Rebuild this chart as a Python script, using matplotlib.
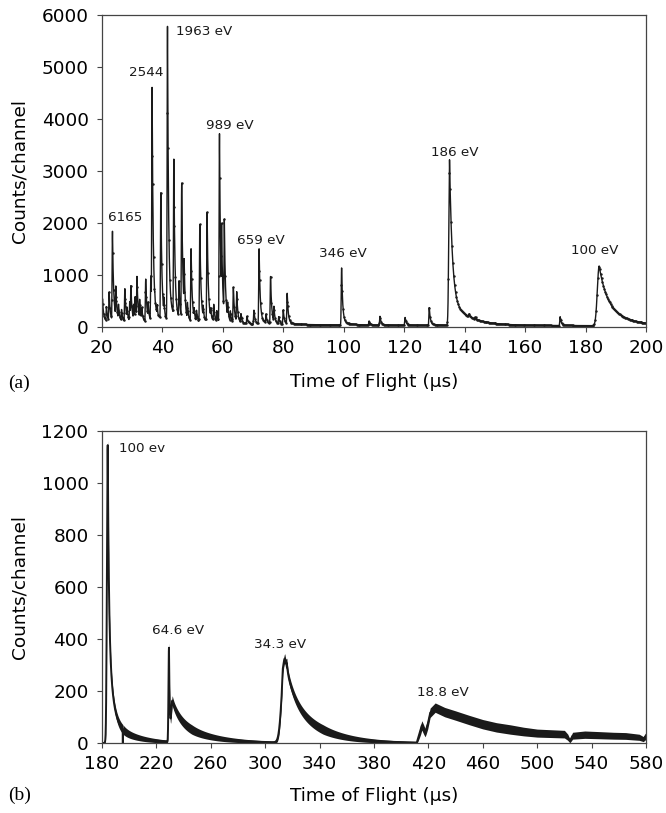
import numpy as np
import matplotlib
matplotlib.use('Agg')
import matplotlib.pyplot as plt

plt.rcParams['font.family'] = ['DejaVu Sans']

### Panel (a): 20-200 us
# sharp peaks: time of flight (us), counts
spike_tof_a = [20.2, 22.4, 23.5, 24.6, 27.6, 29.2, 29.6, 31.6, 32.5, 34.5, 36.2, 36.6,
               39.5, 41.7, 43.8, 45.5, 46.4, 47.2, 49.5, 52.4, 54.8, 57.0, 58.9, 59.6,
               60.5, 61.6, 63.5, 64.6, 70.3, 72.0, 74.3, 75.8, 76.9, 80.0, 81.3, 99.3,
               108.4, 112.0, 120.3, 128.3, 141.5, 143.5, 171.6]
spike_counts_a = [450, 580, 1750, 700, 650, 400, 710, 890, 450, 840, 900, 4525,
                  2500, 5700, 3150, 810, 2690, 1240, 1430, 1900, 2135, 370, 3650, 1930,
                  2010, 420, 700, 620, 270, 1450, 200, 920, 350, 280, 600, 1096,
                  80, 170, 150, 340, 60, 50, 170]
# small background spikes in the crowded region
noise_tof_a = [21.5, 25.5, 26.5, 28.3, 30.5, 31.0, 33.2, 35.3, 37.5, 38.3, 40.5, 42.6,
               44.6, 48.3, 50.5, 51.3, 53.5, 56.0, 58.0, 62.5, 66.0, 68.0, 78.5]
noise_counts_a = [300, 350, 250, 300, 350, 500, 300, 400, 600, 350, 500, 400,
                  450, 400, 300, 250, 350, 300, 250, 250, 200, 150, 150]
# broad peaks (186 eV and 100 eV): tof, counts, rise width, decay length
broad_tof_a = [135.0, 135.0, 184.5, 184.5]
broad_counts_a = [2700, 480, 690, 457]
broad_rise_a = [0.25, 0.25, 0.6, 0.6]
broad_decay_a = [0.9, 6.0, 2.5, 7.0]
base_tof_a = [20, 30, 40, 50, 60, 70, 80, 90, 100, 120, 140, 160, 180, 200]
base_counts_a = [90, 80, 75, 70, 60, 50, 45, 40, 35, 30, 28, 25, 22, 20]

labels_a = ['6165', '2544', '1963 eV', '989 eV', '659 eV', '346 eV', '186 eV', '100 eV']
label_x_a = [27.6, 34.8, 44.4, 62.4, 72.6, 99.8, 136.7, 183.0]
label_y_a = [2096, 4890, 5680, 3865, 1660, 1417, 3352, 1467]
label_ha_a = ['center', 'center', 'left', 'center', 'center', 'center', 'center', 'center']

### Panel (b): 180-580 us
broad_tof_b = [184.3, 184.3, 184.3, 229.3, 231.8, 231.8, 314.5, 314.5, 313.0, 316.0]
broad_counts_b = [650, 410, 85, 360, 69, 84, 128, 192, 30, 25]
broad_rise_b = [0.6, 0.6, 0.6, 0.35, 0.8, 0.8, 2.2, 2.2, 0.4, 0.4]
broad_decay_b = [0.8, 3.0, 16.0, 0.6, 6.0, 22.0, 6.0, 21.0, 0.6, 0.6]
base_tof_b = [180, 411.5, 413.5, 415.2, 417.6, 419.5, 421.3, 425, 432, 440, 450, 460,
              470, 480, 490, 500, 510, 520, 522.5, 524, 526, 535, 546, 556, 565, 575,
              578, 580]
base_counts_b = [0, 0, 35, 66, 38, 70, 115, 135, 118, 105, 88, 72,
                 60, 52, 44, 38, 36, 34, 22, 8, 28, 32, 30, 28, 27, 22,
                 15, 28]
dip_tof_b = [195.4]

labels_b = ['100 ev', '64.6 eV', '34.3 eV', '18.8 eV']
label_x_b = [209.2, 236.1, 310.9, 430.7]
label_y_b = [1133, 432, 377, 195]


def peak(t, t0, h, rise, decay):
    dt = t - t0
    left = h * np.exp(-0.5 * (np.minimum(dt, 0) / rise) ** 2)
    right = h * np.exp(-np.maximum(dt, 0) / decay)
    return np.where(dt < 0, left, right)


t_a = np.arange(20, 200.01, 0.05)
spikes = [peak(t_a, t0, 0.93 * h, 0.12, 0.35) + peak(t_a, t0, 0.07 * h, 0.12, 2.5)
          for t0, h in zip(spike_tof_a + noise_tof_a, spike_counts_a + noise_counts_a)]
y_a = np.interp(t_a, base_tof_a, base_counts_a) + np.max(spikes, axis=0)
for t0, h, r, d in zip(broad_tof_a, broad_counts_a, broad_rise_a, broad_decay_a):
    y_a += peak(t_a, t0, h, r, d)

t_b = np.arange(180, 580.01, 0.1)
y_b = np.interp(t_b, base_tof_b, base_counts_b)
for t0, h, r, d in zip(broad_tof_b, broad_counts_b, broad_rise_b, broad_decay_b):
    y_b += peak(t_b, t0, h, r, d)
for t0 in dip_tof_b:
    y_b[np.argmin(np.abs(t_b - t0))] = 0

fig = plt.figure(figsize=(6.66, 8.13), dpi=100)
ax = fig.add_axes([0.153, 0.598, 0.817, 0.384])
bx = fig.add_axes([0.153, 0.0861, 0.817, 0.384])

ink = '#1a1a1a'
ax.plot(t_a, y_a, color=ink, lw=1.0, marker='.', ms=1.5, markevery=6)
ax.set_xlim(20, 200)
ax.set_ylim(0, 6000)
ax.set_xticks(np.arange(20, 201, 20))
ax.set_yticks(np.arange(0, 6001, 1000))
for s, x, y, ha in zip(labels_a, label_x_a, label_y_a, label_ha_a):
    ax.text(x, y, s, ha=ha, va='center', fontsize=9.7, color=ink)

band = np.minimum(2.5 * np.sqrt(y_b), 18)
bx.fill_between(t_b, y_b - band, y_b + band, color=ink, lw=0)
bx.plot(t_b, y_b, color=ink, lw=1.4)
bx.set_xlim(180, 580)
bx.set_ylim(0, 1200)
bx.set_xticks(np.arange(180, 581, 40))
bx.set_yticks(np.arange(0, 1201, 200))
for s, x, y in zip(labels_b, label_x_b, label_y_b):
    bx.text(x, y, s, ha='center', va='center', fontsize=9.7, color=ink)

for a, lp in ((ax, 12), (bx, 10)):
    a.set_xlabel('Time of Flight (\u03bcs)', fontsize=13.3, labelpad=lp)
    a.set_ylabel('Counts/channel', fontsize=13.3, labelpad=9)
    a.tick_params(labelsize=13.3, direction='out', length=3.6, width=0.8, color='#444444')
    a.tick_params(axis='y', pad=6)
    a.tick_params(axis='x', pad=5)
    for sp in a.spines.values():
        sp.set_color('#444444')
        sp.set_linewidth(0.9)

fig.text(0.012, 0.529, '(a)', family='Liberation Serif', fontsize=14, va='center')
fig.text(0.012, 0.022, '(b)', family='Liberation Serif', fontsize=14, va='center')

fig.savefig('out.png', dpi=100)
